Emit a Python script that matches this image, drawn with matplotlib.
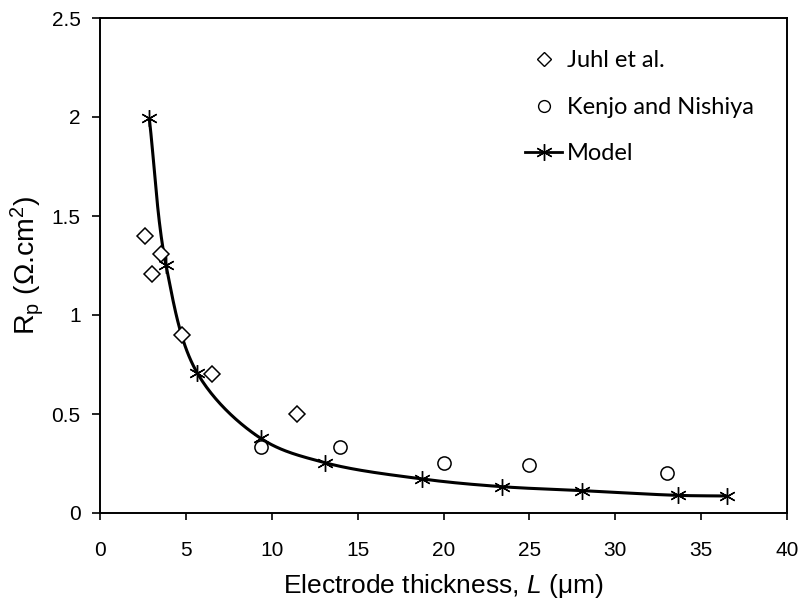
import numpy as np
import matplotlib
matplotlib.use("Agg")
import matplotlib.pyplot as plt
from matplotlib.lines import Line2D

plt.rcParams['font.family'] = ['Liberation Sans', 'DejaVu Sans']
plt.rcParams['mathtext.fontset'] = 'custom'
plt.rcParams['mathtext.rm'] = 'Liberation Sans'
plt.rcParams['mathtext.it'] = 'Liberation Sans:italic'
plt.rcParams['mathtext.default'] = 'regular'

# Experimental data (electrode thickness in um, Rp in ohm.cm2)
juhl_L = [2.62, 3.03, 3.55, 4.79, 6.54, 11.49]
juhl_Rp = [1.40, 1.205, 1.31, 0.90, 0.70, 0.50]

kenjo_L = [9.38, 13.98, 20.0, 24.97, 33.0]
kenjo_Rp = [0.332, 0.335, 0.251, 0.242, 0.204]

# Model predictions
model_L = [2.87, 3.84, 5.67, 9.36, 13.1, 18.75, 23.39, 28.07, 33.68, 36.5]
model_Rp = [1.993, 1.253, 0.706, 0.377, 0.254, 0.172, 0.133, 0.113, 0.089, 0.086]

x_ticks = [0, 5, 10, 15, 20, 25, 30, 35, 40]
y_ticks = [0, 0.5, 1, 1.5, 2, 2.5]
y_tick_labels = ['0', '0.5', '1', '1.5', '2', '2.5']


def smooth_curve(xs, ys, sx, sy, n=40):
    """Centripetal Catmull-Rom spline through the points (scaled space)."""
    P = np.column_stack([np.asarray(xs) / sx, np.asarray(ys) / sy])
    P = np.vstack([2 * P[0] - P[1], P, 2 * P[-1] - P[-2]])
    out = []
    for i in range(1, len(P) - 2):
        p0, p1, p2, p3 = P[i - 1], P[i], P[i + 1], P[i + 2]
        t0 = 0.0
        t1 = t0 + np.linalg.norm(p1 - p0) ** 0.5
        t2 = t1 + np.linalg.norm(p2 - p1) ** 0.5
        t3 = t2 + np.linalg.norm(p3 - p2) ** 0.5
        t = np.linspace(t1, t2, n)[:, None]
        a1 = (t1 - t) / (t1 - t0) * p0 + (t - t0) / (t1 - t0) * p1
        a2 = (t2 - t) / (t2 - t1) * p1 + (t - t1) / (t2 - t1) * p2
        a3 = (t3 - t) / (t3 - t2) * p2 + (t - t2) / (t3 - t2) * p3
        b1 = (t2 - t) / (t2 - t0) * a1 + (t - t0) / (t2 - t0) * a2
        b2 = (t3 - t) / (t3 - t1) * a2 + (t - t1) / (t3 - t1) * a3
        c = (t2 - t) / (t2 - t1) * b1 + (t - t1) / (t2 - t1) * b2
        out.append(c if i == 1 else c[1:])
    C = np.vstack(out)
    return C[:, 0] * sx, C[:, 1] * sy


fig = plt.figure(figsize=(8.01, 6.07), dpi=100)
ax = fig.add_axes([100 / 801, 1 - 513 / 607, 687 / 801, 495 / 607])

star = (6, 2, 0)

cx, cy = smooth_curve(model_L, model_Rp, 40 / 687, 2.5 / 495)
ax.plot(cx, cy, color='black', lw=2.2, solid_capstyle='round', zorder=2)
ax.plot(model_L, model_Rp, linestyle='none', marker=star, ms=12,
        mec='black', mew=1.0, zorder=3)
ax.plot(juhl_L, juhl_Rp, linestyle='none', marker='D', ms=8,
        mfc='white', mec='black', mew=1.1, zorder=4)
ax.plot(kenjo_L, kenjo_Rp, linestyle='none', marker='o', ms=9.5,
        mfc='white', mec='black', mew=1.1, zorder=4)

ax.set_xlim(0, 40)
ax.set_ylim(0, 2.5)
ax.set_xticks(x_ticks)
ax.set_yticks(y_ticks)
ax.set_yticklabels(y_tick_labels)
ax.tick_params(direction='out', width=1.2, labelsize=15, colors='black')
ax.tick_params(axis='x', length=5, pad=15)
ax.tick_params(axis='y', length=6, pad=8)
for s in ax.spines.values():
    s.set_linewidth(1.4)

ax.set_xlabel('Electrode thickness, $\\mathit{L}$ (\u03bcm)', fontsize=19,
              labelpad=9)
ax.set_ylabel('R$_{\\rm p}$ (\u03a9.cm$^{2}$)', fontsize=20.5, labelpad=4)

handles = [
    Line2D([], [], linestyle='none', marker='D', ms=7, mfc='white',
           mec='black', mew=1.0),
    Line2D([], [], linestyle='none', marker='o', ms=8.5, mfc='white',
           mec='black', mew=1.0),
    Line2D([], [], color='black', lw=2.0, marker=star, ms=12, mew=1.0),
]
labels = ['Juhl et al.', 'Kenjo and Nishiya', 'Model']
leg = fig.legend(handles, labels, loc='upper left',
                 bbox_to_anchor=(516 / 801, 1 - 41 / 607), frameon=False,
                 prop={'family': 'Lato', 'size': 17}, labelspacing=1.08,
                 handlelength=1.55, handletextpad=0.2, borderaxespad=0)

fig.savefig('out.png', dpi=100)
